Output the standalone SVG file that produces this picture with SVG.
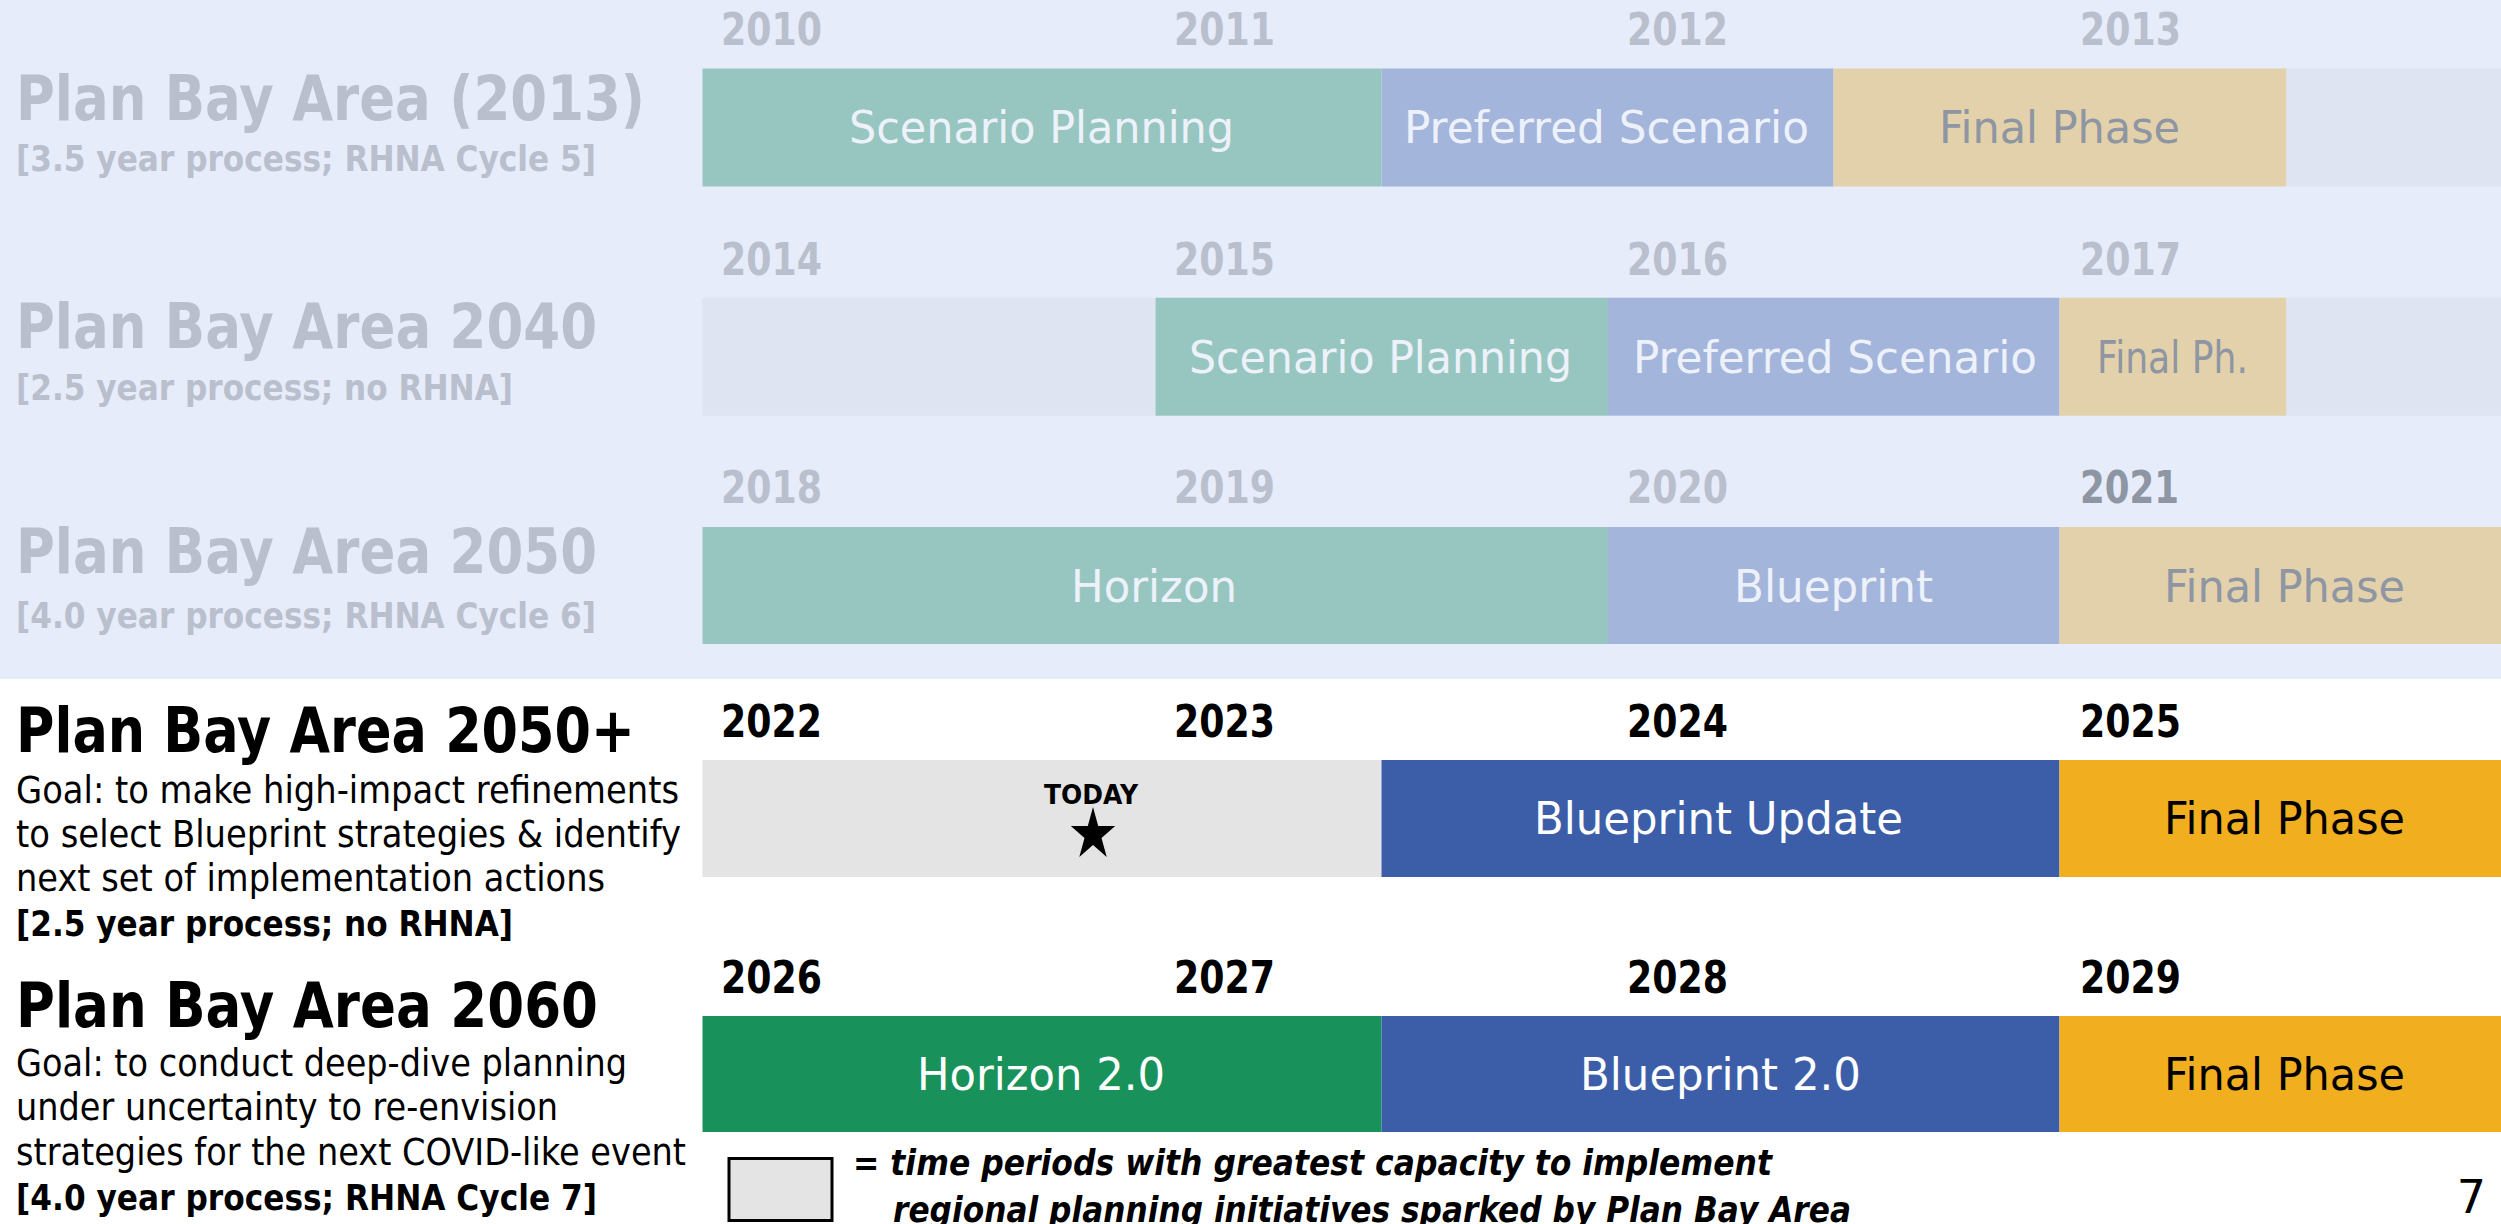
<svg xmlns="http://www.w3.org/2000/svg" width="2501" height="1224" viewBox="0 0 2501 1224">
<style>
text{font-family:"DejaVu Sans","Liberation Sans",sans-serif}
.title{font-size:62px;font-weight:bold}
.sub{font-size:35px;font-weight:bold}
.goal{font-size:37px}
.yr{font-size:44px;font-weight:bold}
.yb{font-size:44px;font-weight:bold;fill:#000}
.lbl{font-size:44px}
.faded{fill:#B9BFCC}
.dark{fill:#8E95A3}
.light{fill:#EDF1FA}
.teal{fill:#97C6C1}
.lblue{fill:#A4B5DC}
.tan{fill:#E2D1AA}
.fill{fill:#DEE4F2}
.gray{fill:#E4E4E4}
.blue{fill:#3C5EA9}
.orange{fill:#F1AF1F}
.green{fill:#18915B}
</style>
<rect x="0" y="0" width="2501" height="1224" fill="#FFFFFF"/>
<rect x="0" y="0" width="2501" height="679" fill="#E6ECF9"/>

<g id="pba2013">
<text class="title faded" x="16" y="120" textLength="629" lengthAdjust="spacingAndGlyphs">Plan Bay Area (2013)</text>
<text class="sub faded" x="16" y="171" textLength="580" lengthAdjust="spacingAndGlyphs">[3.5 year process; RHNA Cycle 5]</text>
<text class="yr faded" x="721" y="45" textLength="101" lengthAdjust="spacingAndGlyphs">2010</text>
<text class="yr faded" x="1174" y="45" textLength="101" lengthAdjust="spacingAndGlyphs">2011</text>
<text class="yr faded" x="1627" y="45" textLength="101" lengthAdjust="spacingAndGlyphs">2012</text>
<text class="yr faded" x="2080" y="45" textLength="101" lengthAdjust="spacingAndGlyphs">2013</text>
<rect class="teal" x="702.5" y="68.5" width="679" height="118"/>
<rect class="lblue" x="1381.5" y="68.5" width="452" height="118"/>
<rect class="tan" x="1833.5" y="68.5" width="453" height="118"/>
<rect class="fill" x="2286.5" y="68.5" width="214.5" height="118"/>
<text class="lbl light" x="849" y="143" textLength="385" lengthAdjust="spacingAndGlyphs">Scenario Planning</text>
<text class="lbl light" x="1404" y="143" textLength="405" lengthAdjust="spacingAndGlyphs">Preferred Scenario</text>
<text class="lbl dark" x="1939" y="143" textLength="241" lengthAdjust="spacingAndGlyphs">Final Phase</text>
</g>

<g id="pba2040">
<text class="title faded" x="16" y="348" textLength="581" lengthAdjust="spacingAndGlyphs">Plan Bay Area 2040</text>
<text class="sub faded" x="16" y="400" textLength="497" lengthAdjust="spacingAndGlyphs">[2.5 year process; no RHNA]</text>
<text class="yr faded" x="721" y="275" textLength="101" lengthAdjust="spacingAndGlyphs">2014</text>
<text class="yr faded" x="1174" y="275" textLength="101" lengthAdjust="spacingAndGlyphs">2015</text>
<text class="yr faded" x="1627" y="275" textLength="101" lengthAdjust="spacingAndGlyphs">2016</text>
<text class="yr faded" x="2080" y="275" textLength="101" lengthAdjust="spacingAndGlyphs">2017</text>
<rect class="fill" x="702.5" y="297.7" width="453" height="118"/>
<rect class="teal" x="1155.5" y="297.7" width="452.5" height="118"/>
<rect class="lblue" x="1608" y="297.7" width="451.5" height="118"/>
<rect class="tan" x="2059.5" y="297.7" width="227" height="118"/>
<rect class="fill" x="2286.5" y="297.7" width="214.5" height="118"/>
<text class="lbl light" x="1189" y="372.5" textLength="383" lengthAdjust="spacingAndGlyphs">Scenario Planning</text>
<text class="lbl light" x="1633" y="372.5" textLength="404" lengthAdjust="spacingAndGlyphs">Preferred Scenario</text>
<text class="lbl dark" x="2097" y="372.5" textLength="151" lengthAdjust="spacingAndGlyphs">Final Ph.</text>
</g>

<g id="pba2050">
<text class="title faded" x="16" y="573" textLength="581" lengthAdjust="spacingAndGlyphs">Plan Bay Area 2050</text>
<text class="sub faded" x="16" y="628" textLength="580" lengthAdjust="spacingAndGlyphs">[4.0 year process; RHNA Cycle 6]</text>
<text class="yr faded" x="721" y="503" textLength="101" lengthAdjust="spacingAndGlyphs">2018</text>
<text class="yr faded" x="1174" y="503" textLength="101" lengthAdjust="spacingAndGlyphs">2019</text>
<text class="yr faded" x="1627" y="503" textLength="101" lengthAdjust="spacingAndGlyphs">2020</text>
<text class="yr dark" x="2080" y="503" textLength="99" lengthAdjust="spacingAndGlyphs">2021</text>
<rect class="teal" x="702.5" y="527" width="905.5" height="117"/>
<rect class="lblue" x="1608" y="527" width="451.5" height="117"/>
<rect class="tan" x="2059.5" y="527" width="441.5" height="117"/>
<text class="lbl light" x="1071" y="602" textLength="166" lengthAdjust="spacingAndGlyphs">Horizon</text>
<text class="lbl light" x="1734" y="602" textLength="199" lengthAdjust="spacingAndGlyphs">Blueprint</text>
<text class="lbl dark" x="2164" y="602" textLength="241" lengthAdjust="spacingAndGlyphs">Final Phase</text>
</g>

<g id="pba2050plus">
<text class="title" x="16" y="752" textLength="619" lengthAdjust="spacingAndGlyphs">Plan Bay Area 2050+</text>
<text class="goal" x="16" y="803" textLength="663" lengthAdjust="spacingAndGlyphs">Goal: to make high-impact refinements</text>
<text class="goal" x="16" y="847" textLength="665" lengthAdjust="spacingAndGlyphs">to select Blueprint strategies &amp; identify</text>
<text class="goal" x="16" y="891" textLength="589" lengthAdjust="spacingAndGlyphs">next set of implementation actions</text>
<text class="sub" x="16" y="936" textLength="497" lengthAdjust="spacingAndGlyphs">[2.5 year process; no RHNA]</text>
<text class="yb" x="721" y="737" textLength="101" lengthAdjust="spacingAndGlyphs">2022</text>
<text class="yb" x="1174" y="737" textLength="101" lengthAdjust="spacingAndGlyphs">2023</text>
<text class="yb" x="1627" y="737" textLength="101" lengthAdjust="spacingAndGlyphs">2024</text>
<text class="yb" x="2080" y="737" textLength="101" lengthAdjust="spacingAndGlyphs">2025</text>
<rect class="gray" x="702.5" y="760" width="679" height="117"/>
<rect class="blue" x="1381.5" y="760" width="678" height="117"/>
<rect class="orange" x="2059.5" y="760" width="441.5" height="117"/>
<text class="lbl" fill="#FFFFFF" x="1534" y="833.5" textLength="369" lengthAdjust="spacingAndGlyphs">Blueprint Update</text>
<text class="lbl" fill="#000000" x="2164" y="833.5" textLength="241" lengthAdjust="spacingAndGlyphs">Final Phase</text>
<g id="today">
<text x="1044" y="804" font-size="27" font-weight="bold" fill="#000" textLength="94" lengthAdjust="spacingAndGlyphs">TODAY</text>
<polygon points="1093,807 1098.2,826.1 1115.2,826.1 1101.5,837.9 1106.7,857 1093,845.1 1079.3,857 1084.5,837.9 1070.8,826.1 1087.8,826.1" fill="#000"/>
</g>
</g>

<g id="pba2060">
<text class="title" x="16" y="1027" textLength="582" lengthAdjust="spacingAndGlyphs">Plan Bay Area 2060</text>
<text class="goal" x="16" y="1076" textLength="611" lengthAdjust="spacingAndGlyphs">Goal: to conduct deep-dive planning</text>
<text class="goal" x="16" y="1120" textLength="542" lengthAdjust="spacingAndGlyphs">under uncertainty to re-envision</text>
<text class="goal" x="16" y="1165" textLength="670" lengthAdjust="spacingAndGlyphs">strategies for the next COVID-like event</text>
<text class="sub" x="16" y="1210" textLength="581" lengthAdjust="spacingAndGlyphs">[4.0 year process; RHNA Cycle 7]</text>
<text class="yb" x="721" y="993" textLength="101" lengthAdjust="spacingAndGlyphs">2026</text>
<text class="yb" x="1174" y="993" textLength="101" lengthAdjust="spacingAndGlyphs">2027</text>
<text class="yb" x="1627" y="993" textLength="101" lengthAdjust="spacingAndGlyphs">2028</text>
<text class="yb" x="2080" y="993" textLength="101" lengthAdjust="spacingAndGlyphs">2029</text>
<rect class="green" x="702.5" y="1016" width="679" height="116"/>
<rect class="blue" x="1381.5" y="1016" width="678" height="116"/>
<rect class="orange" x="2059.5" y="1016" width="441.5" height="116"/>
<text class="lbl" fill="#FFFFFF" x="917" y="1090" textLength="248" lengthAdjust="spacingAndGlyphs">Horizon 2.0</text>
<text class="lbl" fill="#FFFFFF" x="1580" y="1090" textLength="281" lengthAdjust="spacingAndGlyphs">Blueprint 2.0</text>
<text class="lbl" fill="#000000" x="2164" y="1090" textLength="241" lengthAdjust="spacingAndGlyphs">Final Phase</text>
</g>

<g id="legend">
<rect x="729" y="1158.5" width="103" height="62" fill="#E4E4E4" stroke="#000" stroke-width="3"/>
<text x="853" y="1175" font-size="35" font-weight="bold" font-style="italic" fill="#000" textLength="919" lengthAdjust="spacingAndGlyphs">= time periods with greatest capacity to implement</text>
<text x="893" y="1222" font-size="35" font-weight="bold" font-style="italic" fill="#000" textLength="958" lengthAdjust="spacingAndGlyphs">regional planning initiatives sparked by Plan Bay Area</text>
</g>

<g id="page-number">
<text x="2486" y="1213" font-size="46" fill="#000" text-anchor="end">7</text>
</g>
</svg>
